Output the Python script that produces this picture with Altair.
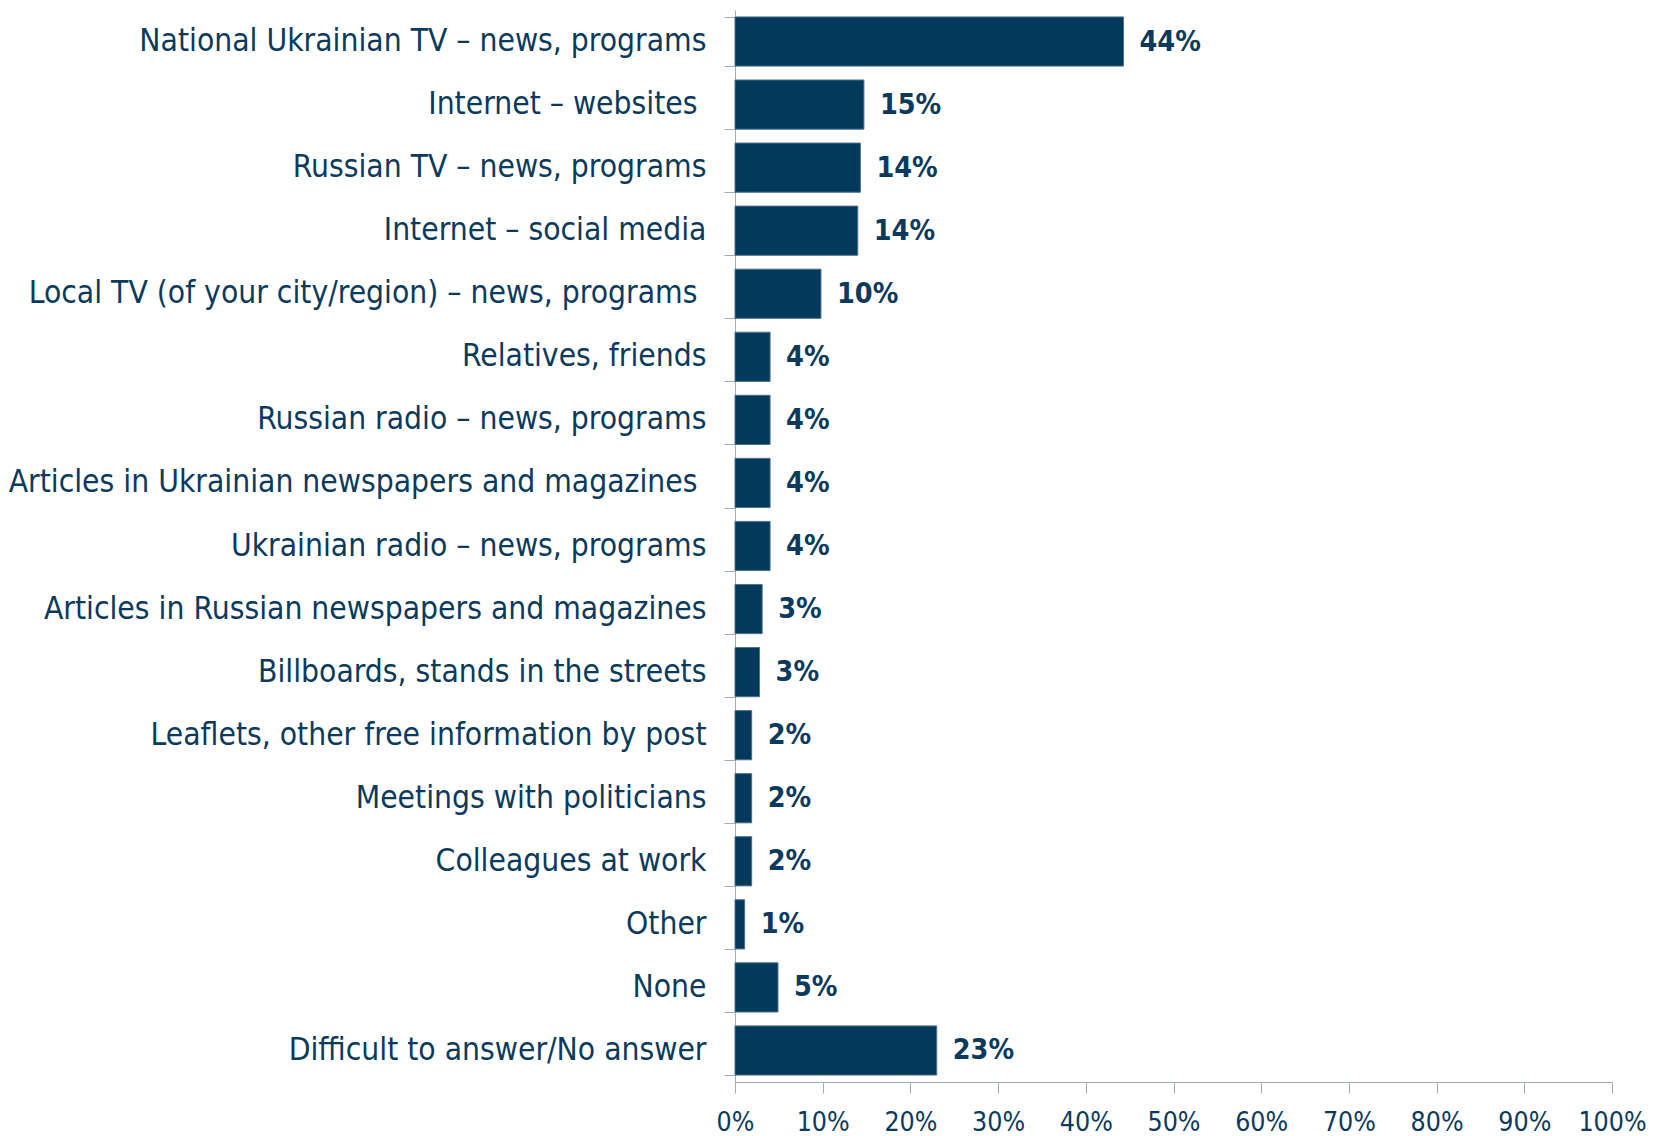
import altair as alt
import pandas as pd

categories = [
    "National Ukrainian TV \u2013 news, programs",
    "Internet \u2013 websites",
    "Russian TV \u2013 news, programs",
    "Internet \u2013 social media",
    "Local TV (of your city/region) \u2013 news, programs",
    "Relatives, friends",
    "Russian radio \u2013 news, programs",
    "Articles in Ukrainian newspapers and magazines",
    "Ukrainian radio \u2013 news, programs",
    "Articles in Russian newspapers and magazines",
    "Billboards, stands in the streets",
    "Leaflets, other free information by post",
    "Meetings with politicians",
    "Colleagues at work",
    "Other",
    "None",
    "Difficult to answer/No answer",
]
# labels that carry a trailing space in the original
trailing_space = [
    "Internet \u2013 websites",
    "Local TV (of your city/region) \u2013 news, programs",
    "Articles in Ukrainian newspapers and magazines",
]
values = [44.3, 14.7, 14.3, 14.0, 9.8, 4.0, 4.0, 4.0, 4.0, 3.1, 2.8, 1.9, 1.9, 1.9, 1.1, 4.9, 23.0]
value_labels = ["44%", "15%", "14%", "14%", "10%", "4%", "4%", "4%", "4%", "3%", "3%",
                "2%", "2%", "2%", "1%", "5%", "23%"]
tick_values = [0, 10, 20, 30, 40, 50, 60, 70, 80, 90, 100]

df = pd.DataFrame({"cat": categories, "val": [v / 100 for v in values], "lab": value_labels})

FONT = "DejaVu Sans Condensed"
TEXT = "#0b3a5c"
BAR = "#033a5c"
AXIS = "#a3aab8"

test_expr = "indexof([" + ", ".join("'" + s + "'" for s in trailing_space) + "], datum.value) >= 0"

y = alt.Y("cat:N", sort=categories, title=None,
          scale=alt.Scale(paddingInner=0.22, paddingOuter=0.11),
          axis=alt.Axis(tickBand="extent", labelFont=FONT, labelFontSize=31.5,
                        labelColor=TEXT,
                        labelPadding={"condition": {"test": test_expr, "value": 27}, "value": 18},
                        tickSize=11,
                        tickColor=AXIS, domainColor=AXIS, labelLimit=900))

x = alt.X("val:Q", title=None,
          scale=alt.Scale(domain=[0, 1], nice=False),
          axis=alt.Axis(format=".0%", values=[t / 100 for t in tick_values],
                        labelFont=FONT, labelFontSize=26.5, labelColor=TEXT,
                        tickSize=11, tickColor=AXIS, domainColor=AXIS,
                        labelPadding=16, grid=False, labelFlush=False))

bars = alt.Chart(df).mark_bar(color=BAR, stroke="#4f6f8c", strokeWidth=1).encode(x=x, y=y)
text = alt.Chart(df).mark_text(align="left", dx=16, font=FONT, fontSize=28.5,
                               fontWeight="bold", color=TEXT).encode(
    x="val:Q", y=alt.Y("cat:N", sort=categories), text="lab:N")

chart = (bars + text).properties(
    width=877, height=1072,
    autosize=alt.AutoSizeParams(type="none"),
    padding={"left": 727, "top": 2, "right": 36, "bottom": 54},
).configure(background="white").configure_view(strokeWidth=0)

chart.save("out.html", embed_options={"renderer": "svg", "actions": False})
